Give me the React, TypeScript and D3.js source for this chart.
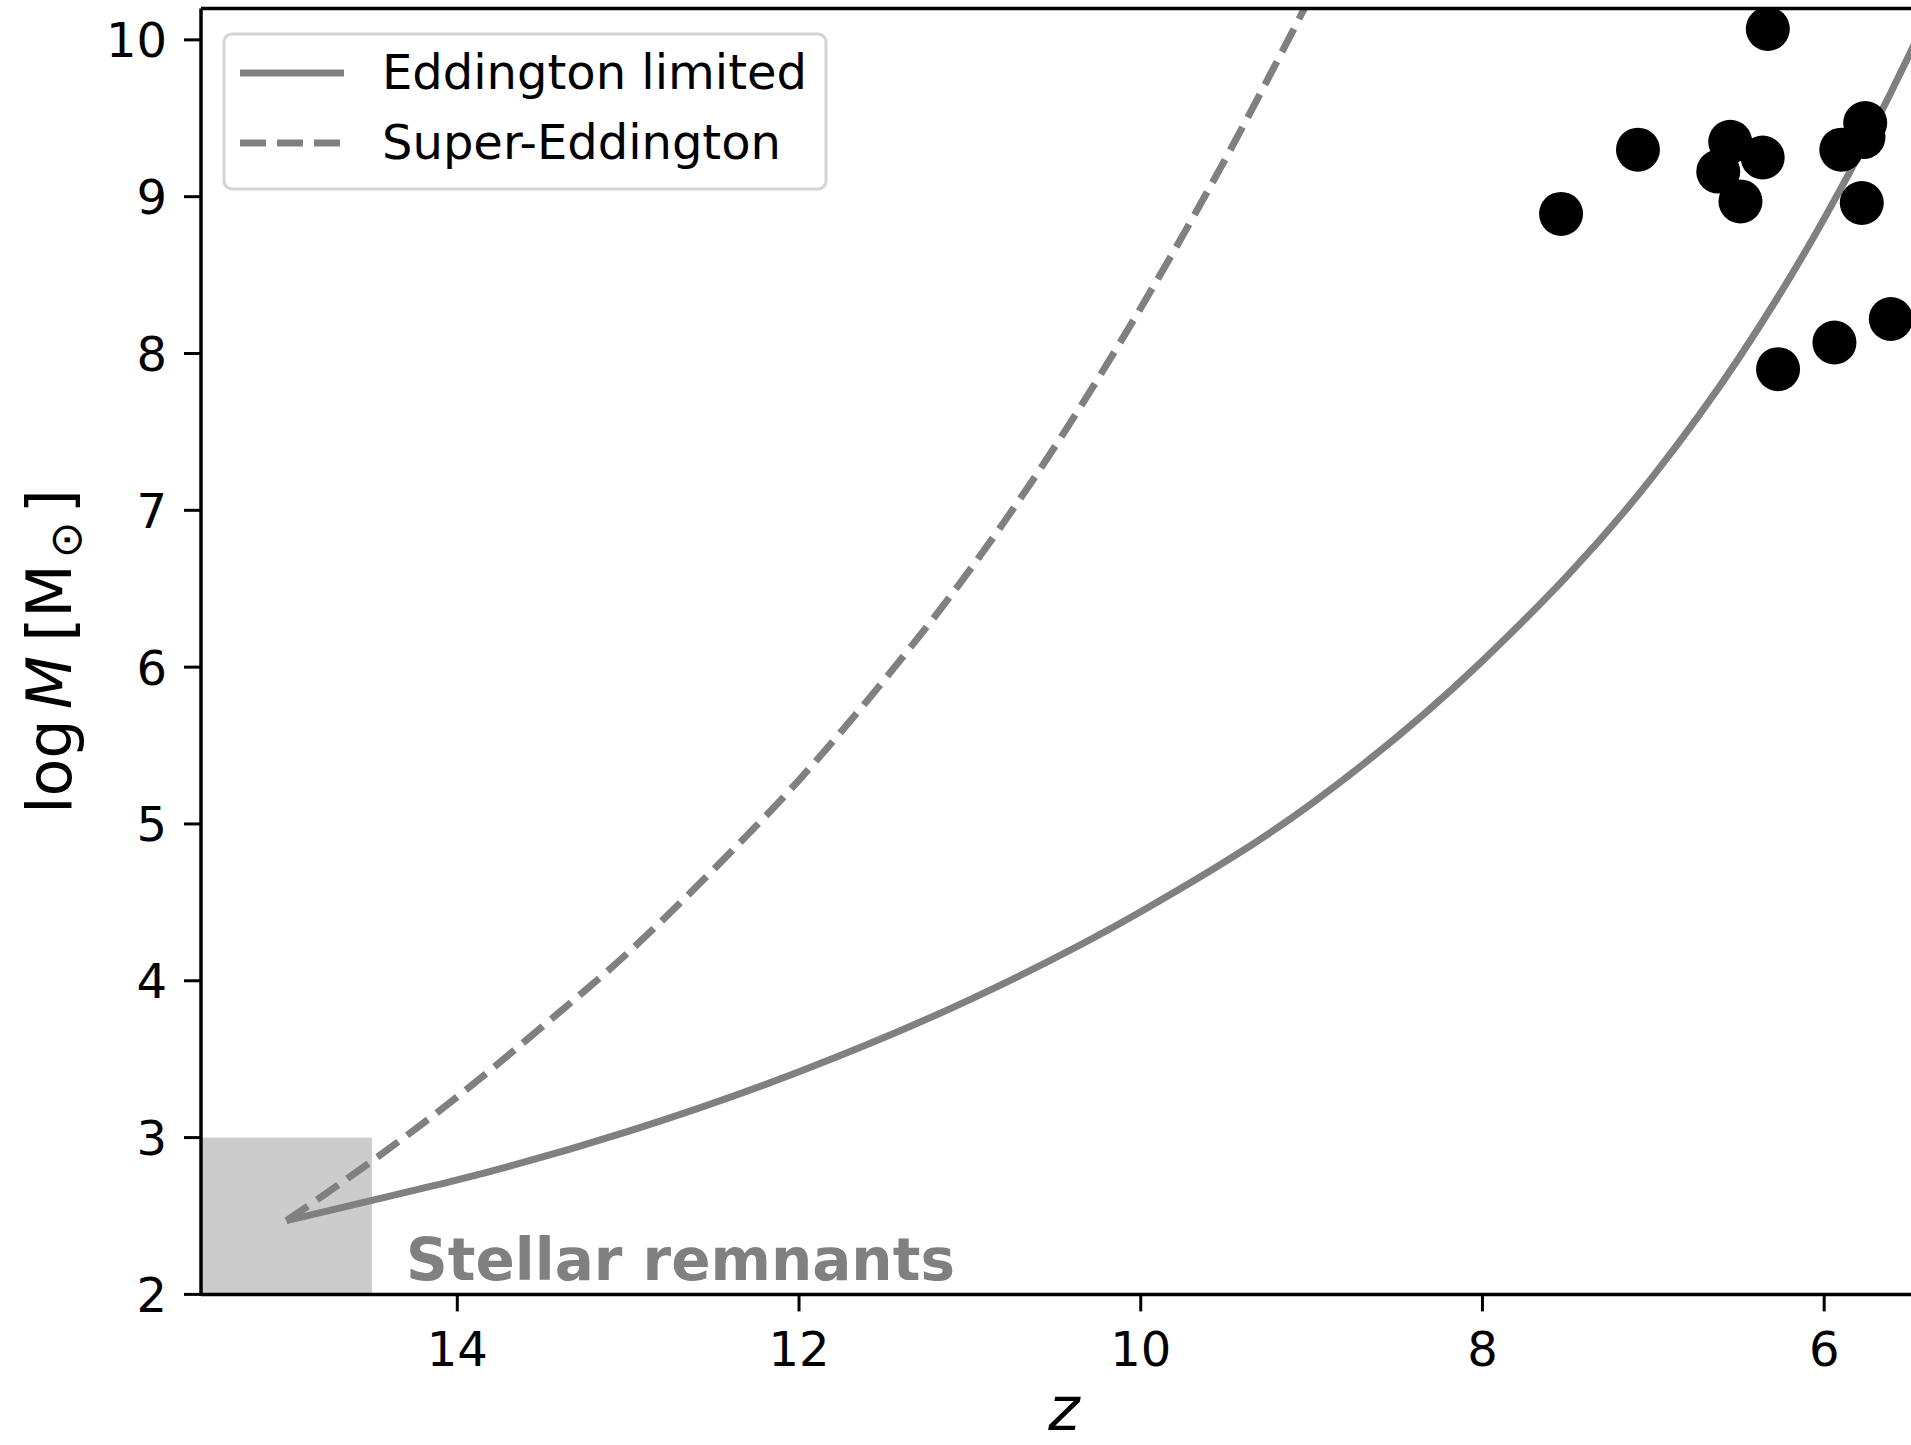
import * as d3 from "d3";

// Observed quasars (redshift, log mass)
const obsZ = [6.33, 7.09, 7.54, 6.55, 6.62, 6.36, 6.49, 5.76, 5.77, 5.9, 5.78, 6.27, 5.94, 5.61];
const obsLogM = [10.07, 9.3, 8.89, 9.35, 9.16, 9.25, 8.97, 9.47, 9.38, 9.3, 8.96, 7.9, 8.07, 8.22];

// Growth tracks
const eddZ = [15, 14.5, 14, 13, 12, 11, 10, 9, 8, 7, 6.5, 6, 5.5, 5.41];
const eddLogM = [2.47, 2.6, 2.73, 3.04, 3.42, 3.88, 4.44, 5.13, 6.04, 7.22, 7.97, 8.86, 9.91, 10.12];

const superZ = [15, 14.5, 14, 13.5, 13, 12.5, 12, 11.5, 11, 10.5, 10, 9.5, 9];
const superLogM = [2.47, 2.85, 3.26, 3.71, 4.18, 4.71, 5.28, 5.92, 6.62, 7.41, 8.29, 9.25, 10.29];

const xTicks = [14, 12, 10, 8, 6];
const yTicks = [2, 3, 4, 5, 6, 7, 8, 9, 10];

// stellar remnant region: z beyond 14.5, log M between 2 and 3
const remnantZ = [17, 14.5];
const remnantLogM = [2, 3];

const W = 1911;
const H = 1445;
const margin = { left: 201, top: 8.5, right: 1925, bottom: 1294.4 };
const FONT = "'DejaVu Sans', sans-serif";
const GRAY = "#808080";

export default function App() {
  const x = d3.scaleLinear().domain([15.5, 5.41]).range([margin.left, margin.right]);
  const y = d3.scaleLinear().domain([2, 10.2]).range([margin.bottom, margin.top]);

  const line = d3
    .line<[number, number]>()
    .x((d) => x(d[0]))
    .y((d) => y(d[1]))
    .curve(d3.curveMonotoneX);

  const eddPts = eddZ.map((z, i) => [z, eddLogM[i]] as [number, number]);
  const superPts = superZ.map((z, i) => [z, superLogM[i]] as [number, number]);

  const tickLen = 17;

  return (
    <div style={{ position: "absolute", left: 0, top: 0, width: W, height: H, overflow: "hidden", background: "#fff" }}>
      <svg width={W} height={H} style={{ display: "block" }}>
        <defs>
          <clipPath id="plot">
            <rect x={margin.left} y={margin.top} width={margin.right - margin.left} height={margin.bottom - margin.top} />
          </clipPath>
        </defs>

        {/* stellar remnants box + growth tracks */}
        <g clipPath="url(#plot)">
          <rect
            x={x(remnantZ[0])}
            y={y(remnantLogM[1])}
            width={x(remnantZ[1]) - x(remnantZ[0])}
            height={y(remnantLogM[0]) - y(remnantLogM[1])}
            fill="#cccccc"
          />
          <path d={line(eddPts) || ""} fill="none" stroke={GRAY} strokeWidth={7} />
          <path d={line(superPts) || ""} fill="none" stroke={GRAY} strokeWidth={7} strokeDasharray="26 11" />
        </g>

        <text x={x(14.3)} y={y(2.09)} fontFamily={FONT} fontSize={58} fontWeight="bold" fill={GRAY}>
          Stellar remnants
        </text>

        {obsZ.map((z, i) => (
          <circle key={i} cx={x(z)} cy={y(obsLogM[i])} r={22} fill="#000" />
        ))}

        {/* spines */}
        <g stroke="#000" strokeWidth={3.5} fill="none">
          <line x1={margin.left} x2={margin.left} y1={margin.top} y2={margin.bottom} />
          <line x1={margin.left} x2={margin.right} y1={margin.bottom} y2={margin.bottom} />
          <line x1={margin.left} x2={margin.right} y1={margin.top} y2={margin.top} />
          <line x1={margin.right} x2={margin.right} y1={margin.top} y2={margin.bottom} />
        </g>

        {/* y axis */}
        {yTicks.map((t) => (
          <g key={"y" + t}>
            <line x1={margin.left - tickLen} x2={margin.left} y1={y(t)} y2={y(t)} stroke="#000" strokeWidth={3} />
            <text x={margin.left - tickLen - 17} y={y(t) + 17.5} textAnchor="end" fontFamily={FONT} fontSize={48} fill="#000">
              {t}
            </text>
          </g>
        ))}

        {/* x axis */}
        {xTicks.map((t) => (
          <g key={"x" + t}>
            <line x1={x(t)} x2={x(t)} y1={margin.bottom} y2={margin.bottom + tickLen} stroke="#000" strokeWidth={3} />
            <text x={x(t)} y={1366} textAnchor="middle" fontFamily={FONT} fontSize={48} fill="#000">
              {t}
            </text>
          </g>
        ))}

        <text x={1064} y={1430} textAnchor="middle" fontFamily={FONT} fontSize={60} fontStyle="italic" fill="#000">
          z
        </text>

        <text
          transform={`translate(71,${(margin.top + margin.bottom) / 2}) rotate(-90)`}
          textAnchor="middle"
          fontFamily={FONT}
          fontSize={62}
          fill="#000"
        >
          <tspan>log</tspan>
          <tspan fontStyle="italic" dx={10}>M</tspan>
          <tspan dx={14}>[M</tspan>
          <tspan fontSize={44} dy={10} dx={6}>⊙</tspan>
          <tspan dy={-10} dx={8}>]</tspan>
        </text>

        {/* legend */}
        <g>
          <rect x={224} y={34} width={602} height={155} rx={8} fill="#fff" fillOpacity={0.8} stroke="#d4d4d4" strokeWidth={3} />
          <line x1={240} x2={344} y1={73} y2={73} stroke={GRAY} strokeWidth={7} />
          <text x={382} y={89} fontFamily={FONT} fontSize={48} fill="#000">
            Eddington limited
          </text>
          <line x1={240} x2={344} y1={143} y2={143} stroke={GRAY} strokeWidth={7} strokeDasharray="26 11" />
          <text x={382} y={159} fontFamily={FONT} fontSize={48} fill="#000">
            Super-Eddington
          </text>
        </g>
      </svg>
    </div>
  );
}
